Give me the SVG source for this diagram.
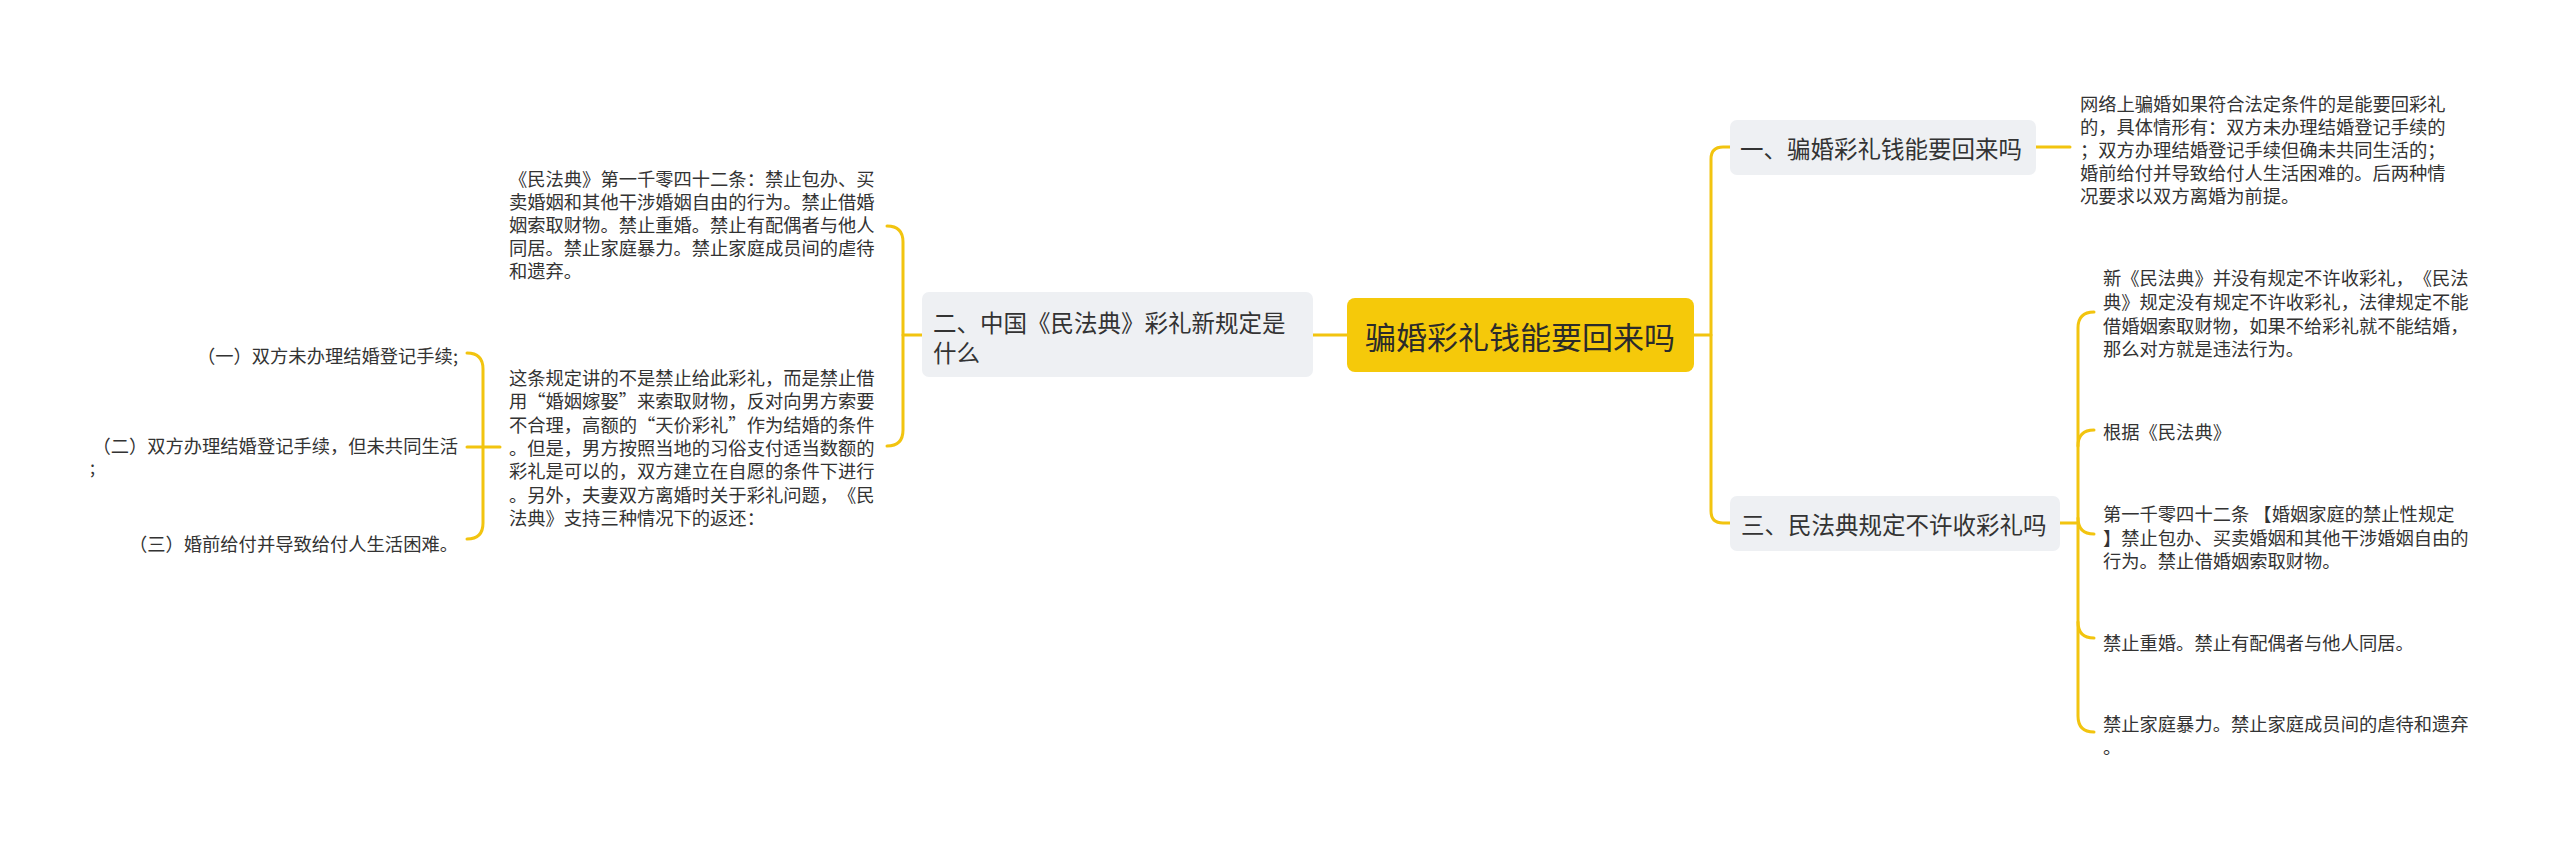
<svg xmlns="http://www.w3.org/2000/svg" width="2560" height="845" viewBox="0 0 2560 845">
<style>
text{font-family:"Noto Sans CJK SC","Noto Sans",sans-serif;fill:#333;dominant-baseline:central;text-spacing-trim:space-all}
.c{font-size:31px;fill:#2b2b2b}
.b{font-size:23.5px}
.l{font-size:18.3px}
.box{fill:#EEF0F3}
.ln{fill:none;stroke:#F2C40F;stroke-width:3;stroke-linecap:round}
</style>
<rect width="2560" height="845" fill="#fff"/>
<g id="connectors" class="ln">
<path class="ln" d="M1313,335 H1347"/>
<path class="ln" d="M1693,335 H1711"/>
<path class="ln" d="M1730,147 H1723 Q1711,147 1711,159 V511 Q1711,523 1723,523 H1730"/>
<path class="ln" d="M2036,147 H2070"/>
<path class="ln" d="M2060,523 H2078"/>
<path class="ln" d="M2094,312 Q2078,312 2078,328 V716 Q2078,732 2094,732"/>
<path class="ln" d="M2078,446 Q2078,430 2094,430"/>
<path class="ln" d="M2078,518 Q2078,534 2094,534"/>
<path class="ln" d="M2078,622 Q2078,638 2094,638"/>
<path class="ln" d="M903,335 H922"/>
<path class="ln" d="M887,226 Q903,226 903,242 V430 Q903,446 887,446"/>
<path class="ln" d="M467,447 H500"/>
<path class="ln" d="M467,353 Q483,353 483,369 V523 Q483,539 467,539"/>
</g>
<g id="center">
<rect x="1347" y="298" width="347" height="74" rx="8" fill="#F5C90A"/>
<text class="c" x="1520" y="335" text-anchor="middle">骗婚彩礼钱能要回来吗</text>
</g>
<g id="b1">
<rect class="box" x="1730" y="120" width="306" height="55" rx="7"/>
<text class="b" x="1740" y="148">一、骗婚彩礼钱能要回来吗</text>
</g>
<g id="b1-leaf">
<text class="l" x="2080" y="103">网络上骗婚如果符合法定条件的是能要回彩礼</text>
<text class="l" x="2080" y="126">的，具体情形有：双方未办理结婚登记手续的</text>
<text class="l" x="2080" y="149">；双方办理结婚登记手续但确未共同生活的；</text>
<text class="l" x="2080" y="172">婚前给付并导致给付人生活困难的。后两种情</text>
<text class="l" x="2080" y="195">况要求以双方离婚为前提。</text>
</g>
<g id="b3">
<rect class="box" x="1730" y="496" width="330" height="55" rx="7"/>
<text class="b" x="1741" y="524">三、民法典规定不许收彩礼吗</text>
</g>
<g id="b3-a">
<text class="l" x="2103" y="277">新《民法典》并没有规定不许收彩礼，《民法</text>
<text class="l" x="2103" y="301">典》规定没有规定不许收彩礼，法律规定不能</text>
<text class="l" x="2103" y="325">借婚姻索取财物，如果不给彩礼就不能结婚，</text>
<text class="l" x="2103" y="348">那么对方就是违法行为。</text>
</g>
<g id="b3-b">
<text class="l" x="2103" y="431">根据《民法典》</text>
</g>
<g id="b3-c">
<text class="l" x="2103" y="513">第一千零四十二条 【婚姻家庭的禁止性规定</text>
<text class="l" x="2103" y="537">】禁止包办、买卖婚姻和其他干涉婚姻自由的</text>
<text class="l" x="2103" y="560">行为。禁止借婚姻索取财物。</text>
</g>
<g id="b3-d">
<text class="l" x="2103" y="642">禁止重婚。禁止有配偶者与他人同居。</text>
</g>
<g id="b3-e">
<text class="l" x="2103" y="723">禁止家庭暴力。禁止家庭成员间的虐待和遗弃</text>
<text class="l" x="2103" y="746">。</text>
</g>
<g id="b2">
<rect class="box" x="922" y="292" width="391" height="85" rx="7"/>
<text class="b" x="933" y="322">二、中国《民法典》彩礼新规定是</text>
<text class="b" x="933" y="352">什么</text>
</g>
<g id="b2-leaf1">
<text class="l" x="509" y="178">《民法典》第一千零四十二条：禁止包办、买</text>
<text class="l" x="509" y="201">卖婚姻和其他干涉婚姻自由的行为。禁止借婚</text>
<text class="l" x="509" y="224">姻索取财物。禁止重婚。禁止有配偶者与他人</text>
<text class="l" x="509" y="247">同居。禁止家庭暴力。禁止家庭成员间的虐待</text>
<text class="l" x="509" y="270">和遗弃。</text>
</g>
<g id="b2-leaf2">
<text class="l" x="509" y="377">这条规定讲的不是禁止给此彩礼，而是禁止借</text>
<text class="l" x="509" y="400">用“婚姻嫁娶”来索取财物，反对向男方索要</text>
<text class="l" x="509" y="424">不合理，高额的“天价彩礼”作为结婚的条件</text>
<text class="l" x="509" y="447">。但是，男方按照当地的习俗支付适当数额的</text>
<text class="l" x="509" y="470">彩礼是可以的，双方建立在自愿的条件下进行</text>
<text class="l" x="509" y="494">。另外，夫妻双方离婚时关于彩礼问题，《民</text>
<text class="l" x="509" y="517">法典》支持三种情况下的返还：</text>
</g>
<g id="c1">
<text class="l" x="458" y="355" text-anchor="end">（一）双方未办理结婚登记手续;</text>
</g>
<g id="c2">
<text class="l" x="458" y="445" text-anchor="end">（二）双方办理结婚登记手续，但未共同生活</text>
<text class="l" x="90" y="466">;</text>
</g>
<g id="c3">
<text class="l" x="458" y="543" text-anchor="end">（三）婚前给付并导致给付人生活困难。</text>
</g>
</svg>
